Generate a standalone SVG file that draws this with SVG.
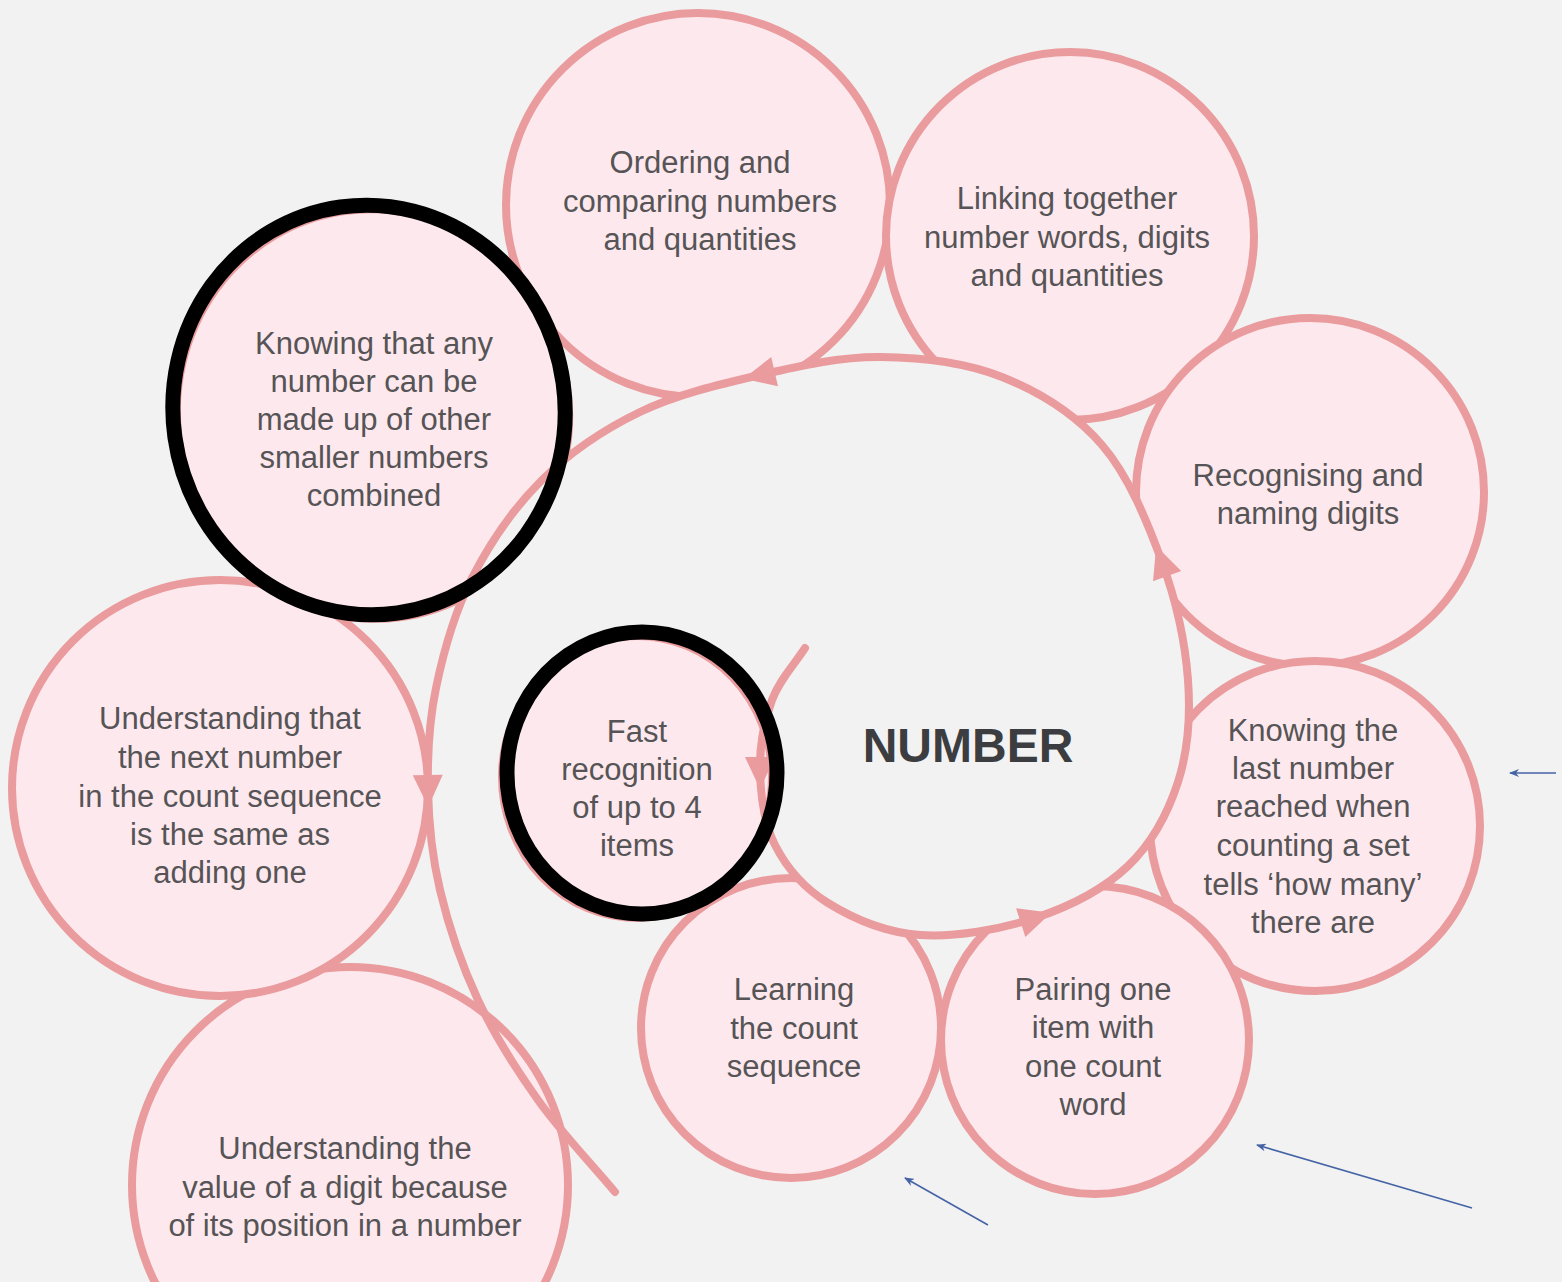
<svg xmlns="http://www.w3.org/2000/svg" width="1562" height="1282" viewBox="0 0 1562 1282">
  <defs>
    <style>
      .bubble { fill: #fde9ed; stroke: #ea9b9d; stroke-width: 8; }
      .ring { fill: none; stroke: #000000; stroke-width: 15; }
      .label { font-family: "Liberation Sans", Arial, sans-serif; font-size: 31px; fill: #565456; text-anchor: middle; }
      .title { font-family: "Liberation Sans", Arial, sans-serif; font-size: 48px; font-weight: bold; fill: #3c3d40; text-anchor: middle; }
      .spiral { fill: none; stroke: #ea9b9d; stroke-width: 8; stroke-linecap: round; }
      .pointer { fill: none; stroke: #4564a6; stroke-width: 1.6; }
    </style>
    <polygon id="head" points="17,0 -15,-15 -15,15" fill="#ea9b9d"/>
    <marker id="blue-tip" viewBox="0 0 10 8" refX="9" refY="4" markerWidth="10" markerHeight="8" markerUnits="userSpaceOnUse" orient="auto">
      <path d="M10,4 L0,0 L3,4 L0,8 Z" fill="#4564a6"/>
    </marker>
  </defs>

  <rect width="1562" height="1282" fill="#f2f2f2"/>

  <!-- outer bubbles -->
  <g id="node-ordering"><circle class="bubble" cx="698" cy="205" r="192"/></g>
  <g id="node-linking"><circle class="bubble" cx="1070" cy="236" r="184"/></g>
  <g id="node-recognising"><circle class="bubble" cx="1310" cy="492" r="174"/></g>
  <g id="node-last-number"><circle class="bubble" cx="1315" cy="826" r="165"/></g>
  <g id="node-pairing"><circle class="bubble" cx="1095" cy="1040" r="154"/></g>
  <g id="node-learning"><circle class="bubble" cx="791" cy="1028" r="150"/></g>
  <g id="node-place-value"><circle class="bubble" cx="350" cy="1185" r="218"/></g>
  <g id="node-next-number"><circle class="bubble" cx="220" cy="788" r="208"/></g>
  <g id="node-composition"><ellipse class="bubble" cx="373" cy="414" rx="196" ry="205" transform="rotate(-8 373 414)"/></g>

  <!-- inside of the spiral -->
  <path fill="#f2f2f2" d="M805,648 C794,665 779.5,679.7 772,700 C764.5,720.3 759.5,745.8 760,770 C760.5,794.2 763.7,822.8 775,845 C786.3,867.2 803.8,888 828,903 C852.2,918 885.5,932.5 920,935 C954.5,937.5 1000.3,929.5 1035,918 C1069.7,906.5 1104.2,888.7 1128,866 C1151.8,843.3 1168,813 1178,782 C1188,751 1190.7,716.7 1188,680 C1185.3,643.3 1176.3,601.2 1162,562 C1147.7,522.8 1128.7,475.8 1102,445 C1075.3,414.2 1039,391.7 1002,377 C965,362.3 920.3,357.3 880,357 C839.7,356.7 800,365.8 760,375 C720,384.2 676.3,394.5 640,412 C603.7,429.5 570,452.3 542,480 C514,507.7 489.7,543.3 472,578 C454.3,612.7 443.3,652.7 436,688 C428.7,723.3 427.3,756.3 428,790 Z"/>

  <g id="node-subitising"><ellipse class="bubble" cx="637" cy="777" rx="135" ry="141"/></g>

  <!-- connectors: the spiral and its arrowheads -->
  <g id="connectors">
    <path class="spiral" d="M805,648 C794,665 779.5,679.7 772,700 C764.5,720.3 759.5,745.8 760,770 C760.5,794.2 763.7,822.8 775,845 C786.3,867.2 803.8,888 828,903 C852.2,918 885.5,932.5 920,935 C954.5,937.5 1000.3,929.5 1035,918 C1069.7,906.5 1104.2,888.7 1128,866 C1151.8,843.3 1168,813 1178,782 C1188,751 1190.7,716.7 1188,680 C1185.3,643.3 1176.3,601.2 1162,562 C1147.7,522.8 1128.7,475.8 1102,445 C1075.3,414.2 1039,391.7 1002,377 C965,362.3 920.3,357.3 880,357 C839.7,356.7 800,365.8 760,375 C720,384.2 676.3,394.5 640,412 C603.7,429.5 570,452.3 542,480 C514,507.7 489.7,543.3 472,578 C454.3,612.7 443.3,652.7 436,688 C428.7,723.3 427.3,756.3 428,790 C428.7,823.7 431.7,855 440,890 C448.3,925 461.7,965 478,1000 C494.3,1035 515.2,1068 538,1100 C560.8,1132 589.3,1161.3 615,1192"/>
    <use href="#head" transform="translate(760,772) rotate(90)"/>
    <use href="#head" transform="translate(1035,918) rotate(-18)"/>
    <use href="#head" transform="translate(1162,562) rotate(-110)"/>
    <use href="#head" transform="translate(760,375) rotate(167)"/>
    <use href="#head" transform="translate(428,790) rotate(89)"/>

    <line class="pointer" x1="1556" y1="773" x2="1510" y2="773" marker-end="url(#blue-tip)"/>
    <line class="pointer" x1="1472" y1="1208" x2="1257" y2="1145" marker-end="url(#blue-tip)"/>
    <line class="pointer" x1="988" y1="1225" x2="905" y2="1178" marker-end="url(#blue-tip)"/>
  </g>

  <!-- highlight rings -->
  <ellipse class="ring" cx="369" cy="410" rx="196" ry="205" transform="rotate(-8 369 410)"/>
  <ellipse class="ring" cx="642" cy="773" rx="135" ry="141"/>

  <!-- labels -->
  <g id="label-ordering">
    <text class="label" x="700" y="173">Ordering and</text>
    <text class="label" x="700" y="212">comparing numbers</text>
    <text class="label" x="700" y="250">and quantities</text>
  </g>
  <g id="label-linking">
    <text class="label" x="1067" y="209">Linking together</text>
    <text class="label" x="1067" y="248">number words, digits</text>
    <text class="label" x="1067" y="286">and quantities</text>
  </g>
  <g id="label-composition">
    <text class="label" x="374" y="354">Knowing that any</text>
    <text class="label" x="374" y="392">number can be</text>
    <text class="label" x="374" y="430">made up of other</text>
    <text class="label" x="374" y="468">smaller numbers</text>
    <text class="label" x="374" y="506">combined</text>
  </g>
  <g id="label-recognising">
    <text class="label" x="1308" y="486">Recognising and</text>
    <text class="label" x="1308" y="524">naming digits</text>
  </g>
  <g id="label-next-number">
    <text class="label" x="230" y="729">Understanding that</text>
    <text class="label" x="230" y="768">the next number</text>
    <text class="label" x="230" y="807">in the count sequence</text>
    <text class="label" x="230" y="845">is the same as</text>
    <text class="label" x="230" y="883">adding one</text>
  </g>
  <g id="label-subitising">
    <text class="label" x="637" y="742">Fast</text>
    <text class="label" x="637" y="780">recognition</text>
    <text class="label" x="637" y="818">of up to 4</text>
    <text class="label" x="637" y="856">items</text>
  </g>
  <g id="label-centre">
    <text class="title" x="968" y="762">NUMBER</text>
  </g>
  <g id="label-last-number">
    <text class="label" x="1313" y="741">Knowing the</text>
    <text class="label" x="1313" y="779">last number</text>
    <text class="label" x="1313" y="817">reached when</text>
    <text class="label" x="1313" y="856">counting a set</text>
    <text class="label" x="1313" y="895">tells ‘how many’</text>
    <text class="label" x="1313" y="933">there are</text>
  </g>
  <g id="label-learning">
    <text class="label" x="794" y="1000">Learning</text>
    <text class="label" x="794" y="1039">the count</text>
    <text class="label" x="794" y="1077">sequence</text>
  </g>
  <g id="label-pairing">
    <text class="label" x="1093" y="1000">Pairing one</text>
    <text class="label" x="1093" y="1038">item with</text>
    <text class="label" x="1093" y="1077">one count</text>
    <text class="label" x="1093" y="1115">word</text>
  </g>
  <g id="label-place-value">
    <text class="label" x="345" y="1159">Understanding the</text>
    <text class="label" x="345" y="1198">value of a digit because</text>
    <text class="label" x="345" y="1236">of its position in a number</text>
  </g>
</svg>
